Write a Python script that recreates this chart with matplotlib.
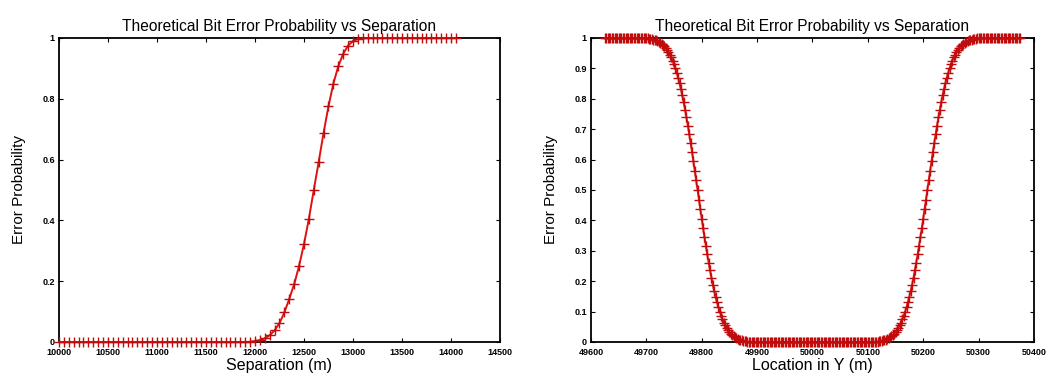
import matplotlib
matplotlib.use("Agg")
import matplotlib.pyplot as plt
from matplotlib.ticker import FuncFormatter

plt.rcParams["font.family"] = ["Liberation Sans", "DejaVu Sans"]

# Left chart: error probability vs separation (m)
sep_x = [
  10000, 10050, 10100, 10150, 10200, 10250, 10300, 10350, 10400, 10450,
  10500, 10550, 10600, 10650, 10700, 10750, 10800, 10850, 10900, 10950,
  11000, 11050, 11100, 11150, 11200, 11250, 11300, 11350, 11400, 11450,
  11500, 11550, 11600, 11650, 11700, 11750, 11800, 11850, 11900, 11950,
  12000, 12050, 12100, 12150, 12200, 12250, 12300, 12350, 12400, 12450,
  12500, 12550, 12600, 12650, 12700, 12750, 12800, 12850, 12900, 12950,
  13000, 13050, 13100, 13150, 13200, 13250, 13300, 13350, 13400, 13450,
  13500, 13550, 13600, 13650, 13700, 13750, 13800, 13850, 13900, 13950,
  14000, 14050,
]
sep_p = [
  0, 0, 0, 0, 0, 0, 0, 0, 0, 0,
  0, 0, 0, 0, 0, 0, 0, 0, 0, 0,
  0, 0, 0, 0, 0, 0, 0, 0, 0, 0,
  0, 0, 0, 0, 0, 0, 0, 0, 0, 0.001,
  0.003, 0.006, 0.012, 0.022, 0.038, 0.062, 0.097, 0.142, 0.19, 0.25,
  0.322, 0.405, 0.5, 0.592, 0.688, 0.775, 0.85, 0.907, 0.948, 0.975,
  0.99, 0.997, 0.999, 1, 1, 1, 1, 1, 1, 1,
  1, 1, 1, 1, 1, 1, 1, 1, 1, 1,
  1, 1,
]

# Right chart: error probability vs location in Y (m)
loc_y = [
  49625.0, 49627.5, 49630.0, 49632.5, 49635.0, 49637.5, 49640.0, 49642.5, 49645.0, 49647.5,
  49650.0, 49652.5, 49655.0, 49657.5, 49660.0, 49662.5, 49665.0, 49667.5, 49670.0, 49672.5,
  49675.0, 49677.5, 49680.0, 49682.5, 49685.0, 49687.5, 49690.0, 49692.5, 49695.0, 49697.5,
  49700.0, 49702.5, 49705.0, 49707.5, 49710.0, 49712.5, 49715.0, 49717.5, 49720.0, 49722.5,
  49725.0, 49727.5, 49730.0, 49732.5, 49735.0, 49737.5, 49740.0, 49742.5, 49745.0, 49747.5,
  49750.0, 49752.5, 49755.0, 49757.5, 49760.0, 49762.5, 49765.0, 49767.5, 49770.0, 49772.5,
  49775.0, 49777.5, 49780.0, 49782.5, 49785.0, 49787.5, 49790.0, 49792.5, 49795.0, 49797.5,
  49800.0, 49802.5, 49805.0, 49807.5, 49810.0, 49812.5, 49815.0, 49817.5, 49820.0, 49822.5,
  49825.0, 49827.5, 49830.0, 49832.5, 49835.0, 49837.5, 49840.0, 49842.5, 49845.0, 49847.5,
  49850.0, 49852.5, 49855.0, 49857.5, 49860.0, 49862.5, 49865.0, 49867.5, 49870.0, 49872.5,
  49875.0, 49877.5, 49880.0, 49882.5, 49885.0, 49887.5, 49890.0, 49892.5, 49895.0, 49897.5,
  49900.0, 49902.5, 49905.0, 49907.5, 49910.0, 49912.5, 49915.0, 49917.5, 49920.0, 49922.5,
  49925.0, 49927.5, 49930.0, 49932.5, 49935.0, 49937.5, 49940.0, 49942.5, 49945.0, 49947.5,
  49950.0, 49952.5, 49955.0, 49957.5, 49960.0, 49962.5, 49965.0, 49967.5, 49970.0, 49972.5,
  49975.0, 49977.5, 49980.0, 49982.5, 49985.0, 49987.5, 49990.0, 49992.5, 49995.0, 49997.5,
  50000.0, 50002.5, 50005.0, 50007.5, 50010.0, 50012.5, 50015.0, 50017.5, 50020.0, 50022.5,
  50025.0, 50027.5, 50030.0, 50032.5, 50035.0, 50037.5, 50040.0, 50042.5, 50045.0, 50047.5,
  50050.0, 50052.5, 50055.0, 50057.5, 50060.0, 50062.5, 50065.0, 50067.5, 50070.0, 50072.5,
  50075.0, 50077.5, 50080.0, 50082.5, 50085.0, 50087.5, 50090.0, 50092.5, 50095.0, 50097.5,
  50100.0, 50102.5, 50105.0, 50107.5, 50110.0, 50112.5, 50115.0, 50117.5, 50120.0, 50122.5,
  50125.0, 50127.5, 50130.0, 50132.5, 50135.0, 50137.5, 50140.0, 50142.5, 50145.0, 50147.5,
  50150.0, 50152.5, 50155.0, 50157.5, 50160.0, 50162.5, 50165.0, 50167.5, 50170.0, 50172.5,
  50175.0, 50177.5, 50180.0, 50182.5, 50185.0, 50187.5, 50190.0, 50192.5, 50195.0, 50197.5,
  50200.0, 50202.5, 50205.0, 50207.5, 50210.0, 50212.5, 50215.0, 50217.5, 50220.0, 50222.5,
  50225.0, 50227.5, 50230.0, 50232.5, 50235.0, 50237.5, 50240.0, 50242.5, 50245.0, 50247.5,
  50250.0, 50252.5, 50255.0, 50257.5, 50260.0, 50262.5, 50265.0, 50267.5, 50270.0, 50272.5,
  50275.0, 50277.5, 50280.0, 50282.5, 50285.0, 50287.5, 50290.0, 50292.5, 50295.0, 50297.5,
  50300.0, 50302.5, 50305.0, 50307.5, 50310.0, 50312.5, 50315.0, 50317.5, 50320.0, 50322.5,
  50325.0, 50327.5, 50330.0, 50332.5, 50335.0, 50337.5, 50340.0, 50342.5, 50345.0, 50347.5,
  50350.0, 50352.5, 50355.0, 50357.5, 50360.0, 50362.5, 50365.0, 50367.5, 50370.0, 50372.5,
  50375.0,
]
loc_p = [
  1, 1, 1, 1, 1, 1, 1, 1, 1, 1,
  1, 1, 1, 1, 1, 1, 1, 1, 1, 1,
  1, 1, 1, 1, 1, 1, 1, 1, 1, 1,
  1, 1, 0.997, 0.997, 0.996, 0.995, 0.993, 0.992, 0.99, 0.988,
  0.985, 0.981, 0.977, 0.973, 0.967, 0.961, 0.954, 0.945, 0.936, 0.925,
  0.913, 0.9, 0.885, 0.869, 0.851, 0.832, 0.811, 0.788, 0.764, 0.739,
  0.712, 0.684, 0.655, 0.626, 0.595, 0.564, 0.532, 0.5, 0.468, 0.436,
  0.405, 0.374, 0.345, 0.316, 0.288, 0.261, 0.236, 0.212, 0.189, 0.168,
  0.149, 0.131, 0.115, 0.1, 0.087, 0.075, 0.064, 0.055, 0.046, 0.039,
  0.033, 0.027, 0.023, 0.019, 0.015, 0.012, 0.01, 0.008, 0.007, 0.005,
  0.004, 0.003, 0.003, 0, 0, 0, 0, 0, 0, 0,
  0, 0, 0, 0, 0, 0, 0, 0, 0, 0,
  0, 0, 0, 0, 0, 0, 0, 0, 0, 0,
  0, 0, 0, 0, 0, 0, 0, 0, 0, 0,
  0, 0, 0, 0, 0, 0, 0, 0, 0, 0,
  0, 0, 0, 0, 0, 0, 0, 0, 0, 0,
  0, 0, 0, 0, 0, 0, 0, 0, 0, 0,
  0, 0, 0, 0, 0, 0, 0, 0, 0, 0,
  0, 0, 0, 0, 0, 0, 0, 0, 0, 0,
  0, 0, 0, 0, 0, 0, 0, 0, 0.003, 0.003,
  0.004, 0.005, 0.007, 0.008, 0.01, 0.012, 0.015, 0.019, 0.023, 0.027,
  0.033, 0.039, 0.046, 0.055, 0.064, 0.075, 0.087, 0.1, 0.115, 0.131,
  0.149, 0.168, 0.189, 0.212, 0.236, 0.261, 0.288, 0.316, 0.345, 0.374,
  0.405, 0.436, 0.468, 0.5, 0.532, 0.564, 0.595, 0.626, 0.655, 0.684,
  0.712, 0.739, 0.764, 0.788, 0.811, 0.832, 0.851, 0.869, 0.885, 0.9,
  0.913, 0.925, 0.936, 0.945, 0.954, 0.961, 0.967, 0.973, 0.977, 0.981,
  0.985, 0.988, 0.99, 0.992, 0.993, 0.995, 0.996, 0.997, 0.997, 1,
  1, 1, 1, 1, 1, 1, 1, 1, 1, 1,
  1, 1, 1, 1, 1, 1, 1, 1, 1, 1,
  1, 1, 1, 1, 1, 1, 1, 1, 1, 1,
  1,
]

sep_xticks = [10000, 10500, 11000, 11500, 12000, 12500, 13000, 13500, 14000, 14500]
sep_yticks = [0, 0.2, 0.4, 0.6, 0.8, 1]
loc_xticks = [49600, 49700, 49800, 49900, 50000, 50100, 50200, 50300, 50400]
loc_yticks = [0, 0.1, 0.2, 0.3, 0.4, 0.5, 0.6, 0.7, 0.8, 0.9, 1]

title = "Theoretical Bit Error Probability vs Separation"
fmt = FuncFormatter(lambda v, pos: "%g" % v)


# Gnuplot-ish look: mirrored inward ticks, tiny labels, red linespoints
def style_axes(ax, xticks, yticks, xlim, xlabel):
  ax.set_xlim(*xlim)
  ax.set_ylim(0, 1)
  ax.set_xticks(xticks)
  ax.set_yticks(yticks)
  ax.xaxis.set_major_formatter(fmt)
  ax.yaxis.set_major_formatter(fmt)
  ax.tick_params(direction="in", top=True, right=True, length=3, width=0.8,
                 labelsize=6.5)
  ax.tick_params(axis="x", pad=4)
  ax.tick_params(axis="y", pad=3)
  for lbl in ax.get_xticklabels() + ax.get_yticklabels():
    lbl.set_fontweight("bold")
  for s in ax.spines.values():
    s.set_linewidth(1.3)
  ax.set_title(title, fontsize=11.2, pad=5)
  ax.set_xlabel(xlabel, fontsize=11.5, labelpad=1)
  ax.set_ylabel("Error Probability", fontsize=11, labelpad=12)


fig = plt.figure(figsize=(10.57, 3.74), dpi=100)

ax1 = fig.add_axes([0.0558, 0.0856, 0.4172, 0.8128])
ax1.plot(sep_x, sep_p, color="#e01010", lw=1.4, marker="+", ms=7, mew=1.0,
         mec="#c00c0c", clip_on=False, zorder=3)
style_axes(ax1, sep_xticks, sep_yticks, (10000, 14500), "Separation (m)")

ax2 = fig.add_axes([0.5591, 0.0856, 0.4191, 0.8128])
ax2.plot(loc_y, loc_p, color="#e01010", lw=1.4, marker="+", ms=7, mew=1.0,
         mec="#c00c0c", clip_on=False, zorder=3)
style_axes(ax2, loc_xticks, loc_yticks, (49600, 50400), "Location in Y (m)")

plt.savefig("out.png", dpi=100)
plt.close()
